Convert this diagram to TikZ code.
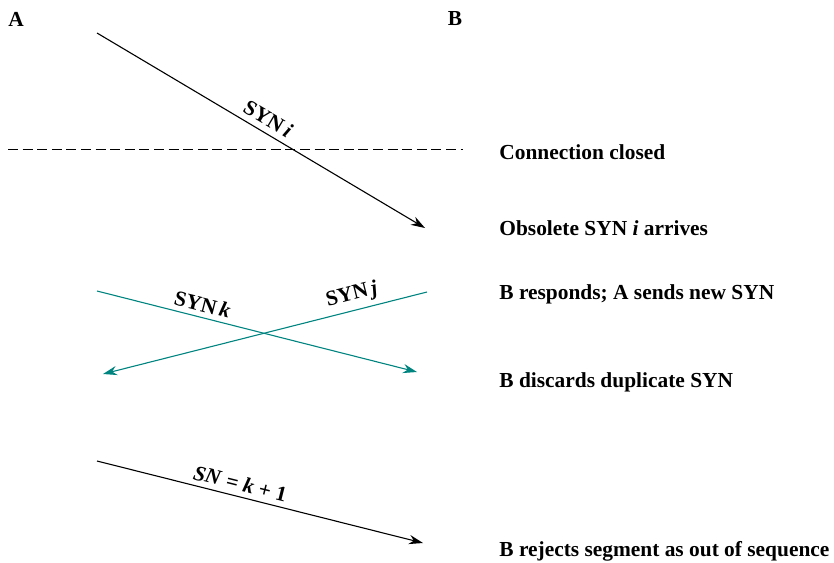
\documentclass[tikz,border=0pt]{standalone}
\usepackage{fontspec}
\setmainfont{Liberation Serif}
\usetikzlibrary{arrows.meta}
\definecolor{synteal}{RGB}{0,132,128}

\begin{document}
\begin{tikzpicture}[x=0.5pt,y=-0.5pt,
    msg/.style={line width=0.55pt,-{Stealth[length=7pt,width=4.6pt]}},
    lbl/.style={font=\fontsize{10.7}{12}\selectfont\bfseries},
    note/.style={lbl,anchor=west,inner sep=0pt}]
  \useasboundingbox (0,0) rectangle (834,562);

  % hosts
  \node[lbl] (hostA) at (16,19) {A};
  \node[lbl] (hostB) at (455,19) {B};

  % end points of the segments
  \coordinate (i0) at (97,33);   \coordinate (i1) at (425,228);
  \coordinate (k0) at (97,291);  \coordinate (k1) at (417,372);
  \coordinate (j0) at (427,292); \coordinate (j1) at (103,374);
  \coordinate (s0) at (97,461);  \coordinate (s1) at (423,543);
  \coordinate (c0) at (8,149);   \coordinate (c1) at (463,149);

  % connection closed
  \draw[line width=0.5pt,dash pattern=on 5pt off 2.3pt] (c0) -- (c1);

  % old SYN
  \draw[msg] (i0) -- (i1)
    node[lbl,pos=0.5,sloped,above,inner sep=3pt] {SYN\,\textit{i}};

  % crossing SYNs
  \draw[msg,synteal] (k0) -- (k1)
    node[lbl,text=black,pos=0.32,sloped,above,inner sep=2.5pt] {SYN\,\textit{k}};
  \draw[msg,synteal] (j0) -- (j1)
    node[lbl,text=black,pos=0.22,sloped,above,inner sep=2.5pt] {SYN\,\textit{j}};

  % rejected segment
  \draw[msg] (s0) -- (s1)
    node[lbl,pos=0.43,sloped,above,inner sep=2.5pt] {\textit{SN} = \textit{k} + 1};

  % events at B
  \node[note] (ev1) at (499,152) {Connection closed};
  \node[note] (ev2) at (499,228) {Obsolete SYN \textit{i} arrives};
  \node[note] (ev3) at (499,294) {B responds; A sends new SYN};
  \node[note] (ev4) at (499,382) {B discards duplicate SYN};
  \node[note] (ev5) at (499,551) {B rejects segment as out of sequence};
\end{tikzpicture}
\end{document}
